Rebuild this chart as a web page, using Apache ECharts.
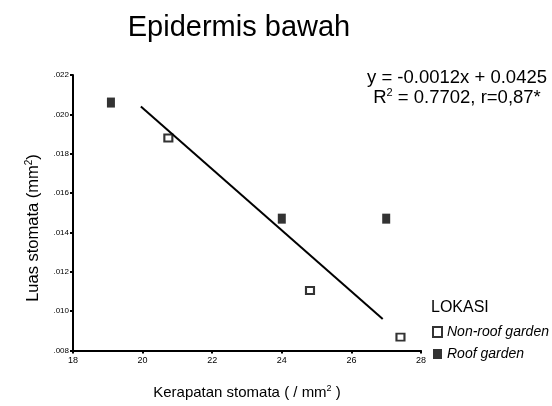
<!DOCTYPE html>
<html>
<head>
<meta charset="utf-8">
<script src="https://cdn.jsdelivr.net/npm/echarts@6/dist/echarts.min.js"></script>
<style>
html,body{margin:0;padding:0;background:#fff;}
#c{width:552px;height:406px;}
</style>
</head>
<body>
<div id="c"></div>
<script>
const xTicks = [18, 20, 22, 24, 26, 28];
const yTicks = [0.008, 0.010, 0.012, 0.014, 0.016, 0.018, 0.020, 0.022];
const nonRoofX = [20.74, 24.81, 27.41];
const nonRoofY = [0.0188, 0.01105, 0.00868];
const roofX = [19.09, 24.0, 27.0];
const roofY = [0.0206, 0.0147, 0.0147];
const fitX = [19.95, 26.9];
const fitY = [0.0204, 0.0096];
const seriesNames = ['Non-roof garden', 'Roof garden'];

const zip = (a, b) => a.map((v, i) => [v, b[i]]);
const FONT = '"Liberation Sans", Arial, sans-serif';

const chart = echarts.init(document.getElementById('c'), null, {renderer: 'canvas'});
chart.setOption({
  animation: false,
  backgroundColor: '#fff',
  textStyle: {fontFamily: FONT, color: '#000'},
  title: [
    {text: 'Epidermis bawah', left: 234, top: 8, textAlign: 'center',
     textStyle: {fontFamily: FONT, fontSize: 29, fontWeight: 'normal', color: '#000'}},
    {text: '{n|y = -0.0012x + 0.0425}\n{n|R}{s|2}{n| = 0.7702, r=0,87*}',
     left: 452, top: 63, textAlign: 'center',
     textStyle: {fontFamily: FONT, fontSize: 18, fontWeight: 'normal', color: '#000', align: 'center',
       rich: {
         n: {fontFamily: FONT, fontSize: 18.5, color: '#000', lineHeight: 20},
         s: {fontFamily: FONT, fontSize: 11, color: '#000', lineHeight: 20, padding: [0, 0, 10, 0]}
       }}},
    {text: 'LOKASI', left: 426, top: 295,
     textStyle: {fontFamily: FONT, fontSize: 16, fontWeight: 'normal', color: '#000'}}
  ],
  legend: {
    orient: 'vertical', left: 427, top: 320, itemGap: 8, padding: [5, 5, 5, 5],
    itemWidth: 9, itemHeight: 10,
    data: seriesNames.map(n => ({name: n, icon: 'rect'})),
    textStyle: {fontFamily: FONT, fontSize: 14, fontStyle: 'italic', color: '#000'}
  },
  graphic: [
    {type: 'text', x: 33, y: 228, rotation: Math.PI / 2,
     style: {text: '{n|Luas stomata (mm}{s|2}{n|)}', align: 'center', verticalAlign: 'middle',
       rich: {
         n: {fontFamily: FONT, fontSize: 16.5, fill: '#000', lineHeight: 18},
         s: {fontFamily: FONT, fontSize: 10, fill: '#000', lineHeight: 18, padding: [0, 0, 8, 0]}
       }}}
  ],
  grid: {left: 73, right: 131, top: 75, bottom: 52, containLabel: false},
  xAxis: {
    type: 'value', min: xTicks[0], max: xTicks[xTicks.length - 1], interval: 2,
    name: '{n|Kerapatan stomata ( / mm}{s|2}{n| )}',
    nameLocation: 'middle', nameGap: 33,
    nameTextStyle: {rich: {
      n: {fontFamily: FONT, fontSize: 15, color: '#000', lineHeight: 18},
      s: {fontFamily: FONT, fontSize: 9, color: '#000', lineHeight: 18, padding: [0, 0, 8, 0]}
    }},
    axisLine: {lineStyle: {color: '#000', width: 2}},
    axisTick: {show: true, length: 3, lineStyle: {color: '#000', width: 2}},
    axisLabel: {fontFamily: FONT, fontSize: 9, color: '#000', margin: 6},
    splitLine: {show: false}
  },
  yAxis: {
    type: 'value', min: yTicks[0], max: yTicks[yTicks.length - 1], interval: 0.002,
    axisLine: {show: true, lineStyle: {color: '#000', width: 2}},
    axisTick: {show: true, length: 3, lineStyle: {color: '#000', width: 2}},
    axisLabel: {fontFamily: FONT, fontSize: 8, color: '#000', margin: 4,
      formatter: v => v.toFixed(3).replace(/^0/, '')},
    splitLine: {show: false}
  },
  series: [
    {name: 'fit', type: 'line', data: zip(fitX, fitY), symbol: 'none',
     lineStyle: {color: '#000', width: 2}, silent: true, z: 1},
    {name: seriesNames[0], type: 'scatter', data: zip(nonRoofX, nonRoofY),
     symbol: 'rect', symbolSize: [8, 7],
     itemStyle: {color: '#fff', borderColor: '#000', borderWidth: 2}, z: 3},
    {name: seriesNames[1], type: 'scatter', data: zip(roofX, roofY),
     symbol: 'rect', symbolSize: [8, 10],
     itemStyle: {color: '#000', borderColor: '#000', borderWidth: 0}, z: 3}
  ]
});
</script>
</body>
</html>
